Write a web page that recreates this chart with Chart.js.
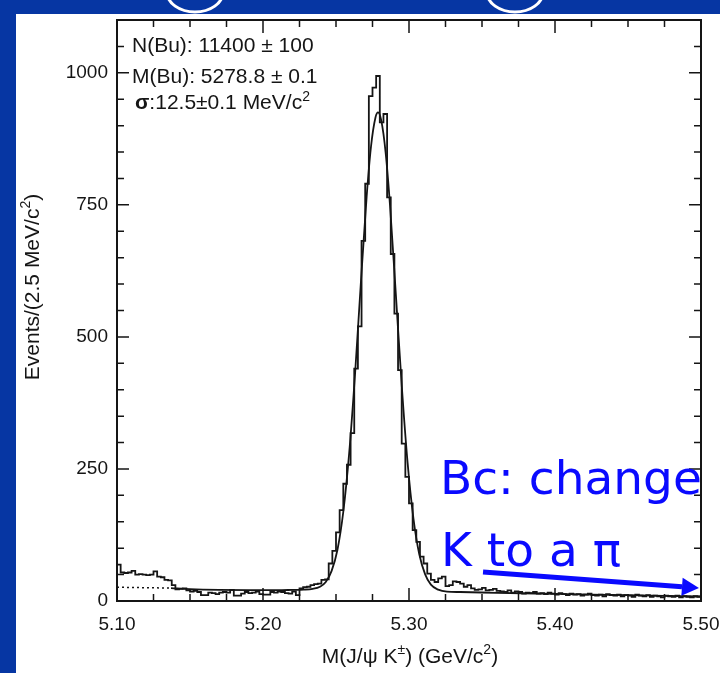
<!DOCTYPE html>
<html>
<head>
<meta charset="utf-8">
<script src="https://cdn.jsdelivr.net/npm/chart.js@4.4.1/dist/chart.umd.min.js"></script>
<style>
  html, body { margin: 0; padding: 0; background: #0636a3; }
  canvas { display: block; }
</style>
</head>
<body>
<canvas id="massChart" width="720" height="673"></canvas>
<script>
/* ============================
   B+ -> J/psi K+ MASS PLOT
============================ */

// ---------- DATA ----------
const histStart = 5.10;
const binWidth = 0.0025;   // 2.5 MeV bins

// events per bin, 5.100 .. 5.500 GeV
const counts = [
    69, 54, 53, 54, 57, 50, 51, 50, 49, 50,
    56, 46, 45, 40, 39, 30, 22, 23, 24, 20,
    18, 19, 17, 11, 11, 16, 15, 13, 16, 17,
    16, 21, 10, 10, 14, 17, 15, 16, 18, 13,
    12, 12, 17, 16, 18, 17, 15, 14, 18, 11,
    24, 26, 27, 30, 32, 33, 40, 41, 71, 95,
    130, 172, 222, 258, 318, 440, 520, 682, 790, 956,
    972, 994, 906, 922, 764, 657, 544, 437, 298, 235,
    185, 134, 112, 84, 71, 52, 40, 36, 43, 46,
    28, 30, 37, 36, 33, 27, 30, 24, 21, 22,
    25, 20, 21, 23, 19, 18, 17, 20, 16, 18,
    17, 14, 16, 15, 17, 14, 15, 13, 16, 14,
    12, 15, 13, 11, 14, 12, 13, 10, 12, 14,
    11, 10, 12, 9, 13, 11, 10, 12, 9, 11,
    10, 8, 12, 10, 9, 11, 8, 10, 9, 7,
    10, 9, 8, 10, 7, 9, 8, 7, 9, 8
];

// fit curve
const fitX = [5.137, 5.15, 5.17, 5.19, 5.21, 5.22, 5.228, 5.234, 5.239, 5.243,
              5.247, 5.251, 5.255, 5.259, 5.263, 5.267, 5.271, 5.274, 5.277, 5.2788,
              5.281, 5.284, 5.287, 5.291, 5.295, 5.299, 5.303, 5.307, 5.311, 5.315,
              5.32, 5.326, 5.335, 5.36, 5.40, 5.45, 5.50];
const fitY = [24.5, 22.5, 21, 20.5, 20.5, 21, 21.5, 23, 27, 36,
              57, 97, 169, 279, 428, 601, 766, 861, 915, 925,
              910, 849, 749, 580, 409, 263, 157, 89, 51, 31,
              21.5, 17.7, 17, 15.5, 13.5, 11, 8.5];

// dotted extension of the background
const dashX = [5.10, 5.137];
const dashY = [26, 24.5];

const fitLines = ["N(Bu): 11400 \u00b1 100", "M(Bu): 5278.8 \u00b1 0.1"];

// ---------- STYLE ----------
const FONT = "'Liberation Sans', Arial, sans-serif";
const INK = "#151515";
const SLIDE_BLUE = "#0636a3";
const PEN_BLUE = "#0a0aff";

// ---------- HELPERS ----------
function histPoints() {
    const pts = counts.map((c, i) => ({ x: histStart + i * binWidth, y: c }));
    pts.push({ x: histStart + counts.length * binWidth, y: counts[counts.length - 1] });
    return pts;
}

function zip(xs, ys) {
    return xs.map((x, i) => ({ x: x, y: ys[i] }));
}

// draws text runs, some raised as superscripts; returns end x
function drawRuns(ctx, runs, x, y) {
    runs.forEach(r => {
        ctx.font = r.font;
        ctx.fillText(r.t, x, y - (r.up || 0));
        x += ctx.measureText(r.t).width;
    });
    return x;
}

function runsWidth(ctx, runs) {
    let w = 0;
    runs.forEach(r => { ctx.font = r.font; w += ctx.measureText(r.t).width; });
    return w;
}

// ---------- PLUGINS ----------
const slidePlugin = {
    id: "slide",
    beforeDraw(chart) {
        const ctx = chart.ctx;
        ctx.save();
        ctx.fillStyle = SLIDE_BLUE;
        ctx.fillRect(0, 0, chart.width, chart.height);
        ctx.fillStyle = "#ffffff";
        ctx.fillRect(16, 14, chart.width - 16, chart.height - 14);
        // bottoms of the white circles from the slide above
        ctx.beginPath();
        ctx.rect(0, 0, chart.width, 14);
        ctx.clip();
        ctx.strokeStyle = "#ffffff";
        ctx.lineWidth = 3;
        [195, 515].forEach(cx => {
            ctx.beginPath();
            ctx.ellipse(cx, -8, 28, 20, 0, 0, Math.PI);
            ctx.stroke();
        });
        ctx.restore();
    }
};

const framePlugin = {
    id: "frame",
    afterDatasetsDraw(chart) {
        const { ctx, chartArea: a, scales: { x, y } } = chart;
        ctx.save();
        ctx.strokeStyle = INK;
        ctx.lineWidth = 2;
        ctx.strokeRect(a.left, a.top, a.right - a.left, a.bottom - a.top);

        ctx.lineWidth = 1.5;
        ctx.beginPath();
        for (let i = 0; i <= 16; i++) {
            const px = x.getPixelForValue(histStart + i * 0.025);
            const len = i % 4 === 0 ? 13 : 7;
            ctx.moveTo(px, a.bottom); ctx.lineTo(px, a.bottom - len);
            ctx.moveTo(px, a.top); ctx.lineTo(px, a.top + len);
        }
        for (let v = 0; v <= 1100; v += 50) {
            const py = y.getPixelForValue(v);
            const len = v % 250 === 0 ? 12 : 7;
            ctx.moveTo(a.left, py); ctx.lineTo(a.left + len, py);
            ctx.moveTo(a.right, py); ctx.lineTo(a.right - len, py);
        }
        ctx.stroke();
        ctx.restore();
    }
};

const textPlugin = {
    id: "texts",
    afterDraw(chart) {
        const { ctx, scales: { x, y } } = chart;
        ctx.save();
        ctx.fillStyle = INK;
        ctx.textBaseline = "alphabetic";
        ctx.textAlign = "left";

        // fit results
        ctx.font = "21px " + FONT;
        ctx.fillText(fitLines[0], 132, 52);
        ctx.fillText(fitLines[1], 132, 83);
        drawRuns(ctx, [
            { t: "\u03c3", font: "bold 21px " + FONT },
            { t: ":12.5\u00b10.1 MeV/c", font: "21px " + FONT },
            { t: "2", font: "14px " + FONT, up: 8 }
        ], 135, 109);

        // x axis title
        const xRuns = [
            { t: "M(J/\u03c8 K", font: "21px " + FONT },
            { t: "\u00b1", font: "14px " + FONT, up: 9 },
            { t: ") (GeV/c", font: "21px " + FONT },
            { t: "2", font: "14px " + FONT, up: 9 },
            { t: ")", font: "21px " + FONT }
        ];
        drawRuns(ctx, xRuns, 410 - runsWidth(ctx, xRuns) / 2, 663);

        // y axis title
        const yRuns = [
            { t: "Events/(2.5 MeV/c", font: "21px " + FONT },
            { t: "2", font: "14px " + FONT, up: 9 },
            { t: ")", font: "21px " + FONT }
        ];
        ctx.translate(39, 287);
        ctx.rotate(-Math.PI / 2);
        drawRuns(ctx, yRuns, -runsWidth(ctx, yRuns) / 2, 0);
        ctx.setTransform(1, 0, 0, 1, 0, 0);

        // hand-written note
        ctx.fillStyle = PEN_BLUE;
        ctx.font = "47px 'DejaVu Sans', sans-serif";
        ctx.fillText("Bc: change", 440, 494);
        ctx.fillText("K to a \u03c0", 441, 566);

        // arrow towards high mass
        const x0 = x.getPixelForValue(5.3507), y0 = y.getPixelForValue(55);
        const x1 = x.getPixelForValue(5.4986), y1 = y.getPixelForValue(24.5);
        const ang = Math.atan2(y1 - y0, x1 - x0);
        const head = 17, half = 9;
        const bx = x1 - head * Math.cos(ang), by = y1 - head * Math.sin(ang);
        ctx.strokeStyle = PEN_BLUE;
        ctx.lineWidth = 5;
        ctx.beginPath();
        ctx.moveTo(x0, y0);
        ctx.lineTo(bx, by);
        ctx.stroke();
        ctx.beginPath();
        ctx.moveTo(x1, y1);
        ctx.lineTo(bx + half * Math.sin(ang), by - half * Math.cos(ang));
        ctx.lineTo(bx - half * Math.sin(ang), by + half * Math.cos(ang));
        ctx.closePath();
        ctx.fill();
        ctx.restore();
    }
};

// ---------- CHART ----------
new Chart(document.getElementById("massChart"), {
    type: "line",
    data: {
        datasets: [
            {
                data: histPoints(),
                stepped: "before",
                borderColor: INK,
                borderWidth: 1.8,
                pointRadius: 0,
                fill: false
            },
            {
                data: zip(fitX, fitY),
                cubicInterpolationMode: "monotone",
                borderColor: INK,
                borderWidth: 1.8,
                pointRadius: 0,
                fill: false
            },
            {
                data: zip(dashX, dashY),
                borderColor: INK,
                borderWidth: 1.5,
                borderDash: [2, 3],
                pointRadius: 0,
                fill: false
            }
        ]
    },
    options: {
        responsive: false,
        devicePixelRatio: 1,
        animation: false,
        layout: { padding: { top: 20, right: 19, bottom: 0, left: 0 } },
        plugins: {
            legend: { display: false },
            tooltip: { enabled: false }
        },
        scales: {
            x: {
                type: "linear",
                min: 5.10,
                max: 5.50,
                border: { display: false },
                grid: { display: false, drawTicks: false },
                ticks: {
                    stepSize: 0.1,
                    padding: 12,
                    color: INK,
                    font: { family: FONT, size: 19 },
                    maxRotation: 0,
                    callback: v => v.toFixed(2)
                },
                afterFit: s => {
                    s.height = 72;
                    s.paddingLeft = 0;
                    s.paddingRight = 0;
                }
            },
            y: {
                min: 0,
                max: 1100,
                border: { display: false },
                grid: { display: false, drawTicks: false },
                ticks: {
                    stepSize: 250,
                    padding: 9,
                    color: INK,
                    font: { family: FONT, size: 19 },
                    callback: v => String(v)
                },
                afterBuildTicks: s => {
                    s.ticks = s.ticks.filter(t => t.value % 250 === 0);
                },
                afterFit: s => {
                    s.width = 117;
                    s.paddingTop = 0;
                    s.paddingBottom = 0;
                }
            }
        }
    },
    plugins: [slidePlugin, framePlugin, textPlugin]
});
</script>
</body>
</html>
